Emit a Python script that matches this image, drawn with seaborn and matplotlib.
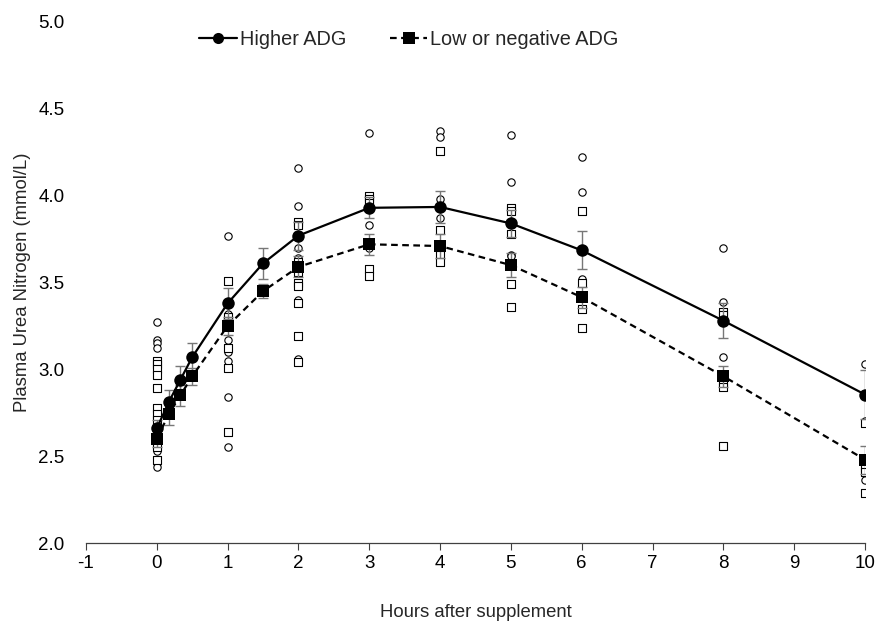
import numpy as np
import pandas as pd
import seaborn as sns
import matplotlib.pyplot as plt

# mean curves
hours = [0, 0.167, 0.333, 0.5, 1, 1.5, 2, 3, 4, 5, 6, 8, 10]
high_mean = [2.66, 2.81, 2.94, 3.07, 3.38, 3.61, 3.77, 3.93, 3.935, 3.84, 3.685, 3.28, 2.855]
high_se = [0.05, 0.07, 0.08, 0.08, 0.09, 0.09, 0.08, 0.06, 0.09, 0.08, 0.11, 0.10, 0.14]
low_mean = [2.60, 2.74, 2.85, 2.96, 3.25, 3.45, 3.59, 3.72, 3.71, 3.60, 3.415, 2.96, 2.48]
low_se = [0.05, 0.06, 0.06, 0.05, 0.05, 0.04, 0.06, 0.06, 0.07, 0.07, 0.06, 0.06, 0.08]

# individual animals
ind_hours = [0, 1, 2, 3, 4, 5, 6, 8, 10]
high_ind = [
    [3.27, 3.17, 3.15, 3.12, 2.76, 2.53, 2.46, 2.44],
    [3.77, 3.32, 3.17, 3.10, 3.05, 2.84, 2.55],
    [4.16, 3.94, 3.70, 3.64, 3.40, 3.06],
    [4.36, 3.83, 3.70],
    [4.37, 4.34, 3.98, 3.87],
    [4.35, 4.08, 3.66, 3.65],
    [4.22, 4.02, 3.52],
    [3.70, 3.39, 3.07],
    [3.03, 2.70, 2.36],
]
low_ind = [
    [3.05, 3.03, 3.00, 2.97, 2.89, 2.78, 2.74, 2.71, 2.55, 2.48],
    [3.51, 3.30, 3.28, 3.12, 3.01, 2.64],
    [3.85, 3.83, 3.62, 3.56, 3.50, 3.48, 3.38, 3.19, 3.04],
    [4.00, 3.98, 3.96, 3.72, 3.58, 3.54],
    [4.26, 3.80, 3.66, 3.62],
    [3.93, 3.91, 3.78, 3.49, 3.36],
    [3.91, 3.50, 3.35, 3.24],
    [3.33, 3.31, 2.92, 2.90, 2.56],
    [2.69, 2.43, 2.41, 2.29],
]

high_pts = pd.DataFrame([(h, v) for h, vals in zip(ind_hours, high_ind) for v in vals], columns=['hour', 'pun'])
low_pts = pd.DataFrame([(h, v) for h, vals in zip(ind_hours, low_ind) for v in vals], columns=['hour', 'pun'])
means = pd.DataFrame({'hour': hours, 'high': high_mean, 'low': low_mean})

sns.set_style('white')
plt.rcParams['font.family'] = ['Liberation Sans', 'DejaVu Sans']
plt.rcParams['axes.unicode_minus'] = False

fig = plt.figure(figsize=(8.77, 6.24), dpi=100)
ax = fig.add_axes([86 / 877, 81 / 624, 779 / 877, 521 / 624])

# individual values (open symbols)
ax.scatter(high_pts['hour'], high_pts['pun'], s=28, marker='o', facecolors='white',
           edgecolors='black', linewidths=0.8, zorder=2)
ax.scatter(low_pts['hour'], low_pts['pun'], s=28, marker='s', facecolors='white',
           edgecolors='black', linewidths=0.8, zorder=2)

# error bars
ax.errorbar(hours, high_mean, yerr=high_se, fmt='none', ecolor='#777777', elinewidth=1,
            capsize=3.5, capthick=1, zorder=3)
ax.errorbar(hours, low_mean, yerr=low_se, fmt='none', ecolor='#777777', elinewidth=1,
            capsize=3.5, capthick=1, zorder=3)

# means
sns.lineplot(data=means, x='hour', y='high', ax=ax, color='black', lw=1.6,
             marker='o', markersize=9, markeredgewidth=0, label='Higher ADG', zorder=4)
sns.lineplot(data=means, x='hour', y='low', ax=ax, color='black', lw=1.6,
             marker='s', markersize=8.5, markeredgewidth=0,
             label='Low or negative ADG', zorder=4)
ax.lines[-1].set_linestyle((0, (3, 2)))

ax.set_xlim(-1, 10)
ax.set_ylim(2.0, 5.0)
ax.set_xticks(range(-1, 11))
ax.set_yticks(np.arange(2.0, 5.01, 0.5))
ax.set_yticklabels([f'{v:.1f}' for v in np.arange(2.0, 5.01, 0.5)])
ax.tick_params(axis='x', direction='out', length=5, width=0.8, color='#404040', bottom=True, pad=4)
ax.tick_params(axis='y', left=False, pad=12)
ax.tick_params(labelsize=13.5, labelcolor='black')

for s in ['top', 'right', 'left']:
    ax.spines[s].set_visible(False)
ax.spines['bottom'].set_color('#404040')
ax.spines['bottom'].set_linewidth(0.9)

ax.set_xlabel('Hours after supplement', fontsize=13.3, labelpad=23)
ax.set_ylabel('Plasma Urea Nitrogen (mmol/L)', fontsize=13.3, labelpad=5)

ax.legend(loc='center left', bbox_to_anchor=(0.1322, 0.966), ncol=2, frameon=False,
          borderpad=0, handlelength=1.9, handletextpad=0.15, columnspacing=2.2,
          fontsize=14.3)
for line in ax.get_legend().get_lines():
    line.set_markersize(8)

fig.savefig('out.png', dpi=100)
